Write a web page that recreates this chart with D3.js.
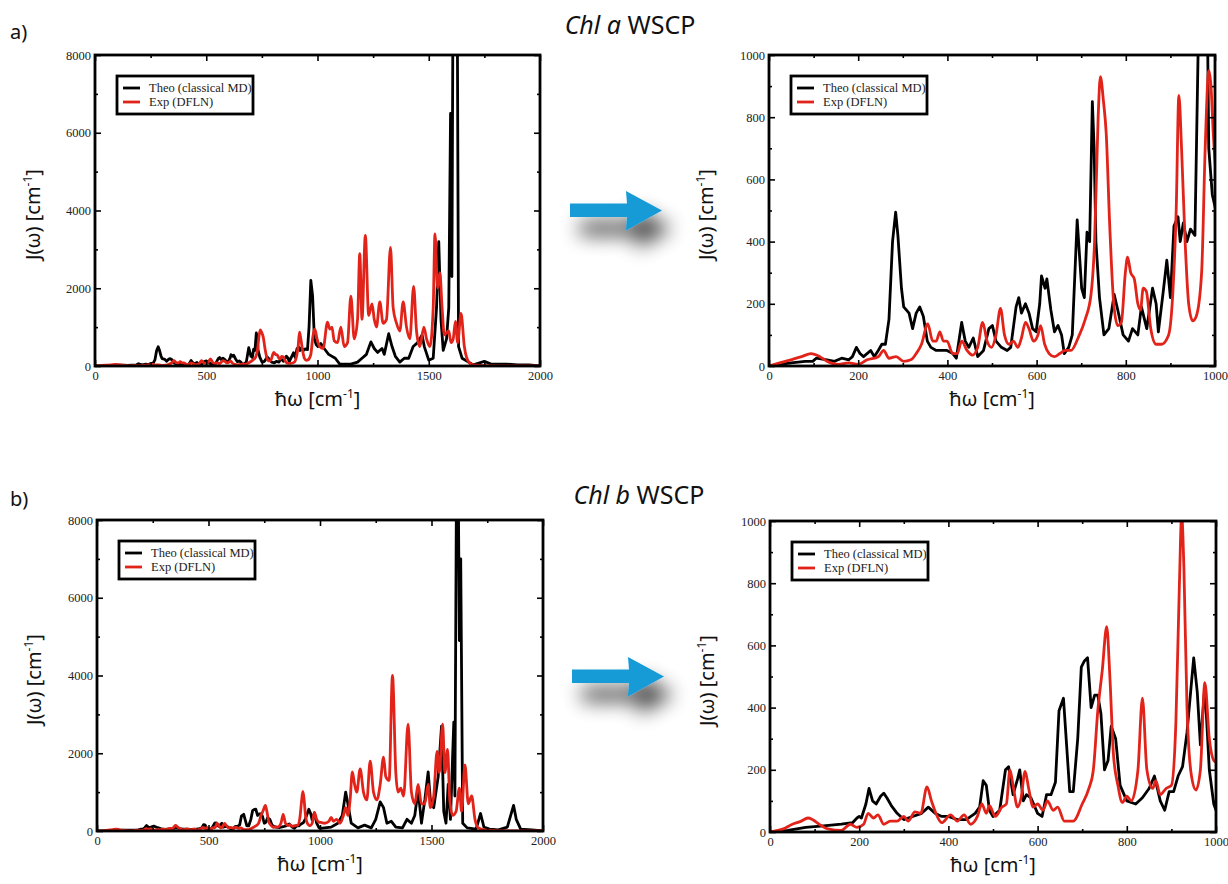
<!DOCTYPE html>
<html>
<head>
<meta charset="utf-8">
<script src="https://cdn.jsdelivr.net/npm/d3@7"></script>
<style>
  body { margin: 0; background: #fff; }
</style>
</head>
<body>
<div id="fig"></div>
<script>
// spectral densities J(w): [w in cm-1, J in cm-1]
const theoA = [[0,0],[24,5],[50,10],[81,15],[98,15],[106,25],[130,20],[147,15],[163,25],[179,20],[187,30],[196,60],[204,40],[212,30],[228,50],[236,30],[245,50],[253,70],[261,70],[269,150],[277,400],[284,495],[289,420],[297,250],[302,190],[314,170],[322,120],[330,170],[338,190],[346,160],[355,80],[363,60],[375,50],[399,50],[412,40],[420,25],[432,140],[440,80],[448,60],[458,90],[468,30],[481,50],[493,120],[501,130],[509,80],[521,60],[534,50],[542,60],[554,190],[560,220],[566,170],[575,200],[583,170],[591,120],[599,110],[607,200],[611,290],[619,250],[623,280],[632,180],[640,110],[648,130],[656,100],[662,40],[672,60],[680,100],[691,470],[701,250],[707,220],[713,430],[719,400],[725,850],[729,700],[733,400],[741,220],[751,100],[762,120],[774,230],[782,180],[794,100],[806,80],[815,120],[827,100],[835,190],[847,120],[860,250],[868,200],[873,110],[884,240],[892,340],[900,220],[908,450],[917,480],[922,400],[929,460],[937,400],[945,440],[955,420],[962,1000],[970,2200],[978,1800],[986,700],[994,550],[1002,500],[1015,580],[1030,450],[1050,300],[1080,200],[1100,50],[1150,50],[1180,100],[1200,200],[1220,300],[1240,620],[1255,450],[1270,350],[1290,450],[1300,300],[1320,830],[1335,500],[1350,250],[1370,100],[1390,200],[1410,200],[1430,500],[1450,600],[1470,800],[1480,500],[1500,150],[1520,200],[1535,1500],[1545,3200],[1555,1200],[1565,400],[1580,700],[1590,1500],[1598,6500],[1604,2300],[1609,9500],[1628,9500],[1634,500],[1650,200],[1700,30],[1750,120],[1780,50],[1850,50],[1900,30],[1950,30],[2000,0]];

const expA = [[0,0],[24,10],[49,20],[73,30],[94,40],[114,30],[130,15],[155,5],[179,10],[200,5],[220,20],[245,30],[257,50],[269,25],[285,30],[302,15],[318,20],[330,40],[342,70],[356,135],[367,80],[375,80],[383,110],[391,80],[399,80],[412,40],[422,40],[432,80],[444,50],[456,35],[468,60],[479,140],[489,80],[499,60],[509,100],[519,185],[528,100],[538,70],[548,80],[558,60],[566,90],[575,140],[583,120],[593,80],[603,100],[609,130],[618,70],[628,40],[640,30],[652,40],[664,50],[677,50],[693,90],[709,150],[722,230],[730,400],[738,800],[743,930],[750,850],[756,750],[764,450],[773,200],[782,130],[790,140],[799,300],[804,350],[811,300],[819,280],[827,200],[833,180],[839,250],[846,240],[856,120],[868,70],[880,70],[896,100],[906,250],[913,500],[919,870],[925,700],[933,400],[941,200],[950,145],[958,160],[970,300],[978,700],[986,950],[991,900],[996,750],[1010,500],[1025,450],[1045,1130],[1055,950],[1065,1000],[1075,650],[1090,600],[1105,1000],[1120,500],[1135,600],[1150,1800],[1165,700],[1180,1200],[1190,2890],[1200,1200],[1215,3360],[1230,1300],[1245,1600],[1255,1200],[1265,1000],[1280,1650],[1295,1100],[1310,1200],[1328,3050],[1340,1500],[1355,1100],[1370,900],[1385,1650],[1400,1000],[1415,700],[1432,2050],[1445,900],[1460,500],[1478,1000],[1490,700],[1505,500],[1520,1500],[1528,3400],[1540,2000],[1550,2400],[1560,1500],[1570,800],[1590,900],[1600,600],[1610,700],[1620,1150],[1630,600],[1645,1350],[1660,500],[1680,100],[1700,30],[1800,0],[2000,0]];

const theoB = [[0,0],[40,5],[80,15],[120,20],[160,25],[185,30],[195,45],[200,50],[205,45],[215,90],[222,140],[230,100],[238,90],[248,115],[255,125],[262,110],[272,85],[285,60],[300,40],[320,50],[340,60],[355,80],[370,60],[385,50],[400,50],[420,40],[440,40],[460,60],[470,80],[478,165],[485,150],[492,70],[500,50],[515,70],[528,200],[535,210],[545,120],[555,170],[560,200],[568,100],[575,120],[585,110],[600,60],[610,50],[620,120],[630,120],[640,160],[648,390],[658,430],[665,280],[672,130],[680,130],[690,300],[698,530],[705,550],[712,560],[720,400],[728,440],[735,440],[742,380],[750,200],[758,230],[765,340],[775,300],[785,150],[800,100],[820,90],[835,110],[850,140],[862,180],[875,100],[885,70],[895,130],[905,130],[915,180],[925,210],[935,320],[945,480],[950,560],[958,450],[965,280],[975,470],[985,200],[995,90],[1000,70],[1050,100],[1080,200],[1100,400],[1115,1000],[1125,700],[1140,200],[1170,80],[1200,150],[1230,80],[1250,300],[1270,750],[1285,600],[1300,200],[1320,250],[1340,100],[1370,80],[1390,300],[1410,200],[1425,400],[1440,1050],[1455,200],[1470,800],[1485,1520],[1495,800],[1510,600],[1530,1400],[1545,2700],[1555,500],[1565,200],[1575,1200],[1585,300],[1600,2800],[1605,900],[1612,9000],[1620,9000],[1625,4900],[1631,7000],[1640,200],[1660,80],[1700,50],[1720,450],[1735,100],[1760,50],[1800,30],[1840,100],[1860,500],[1868,660],[1880,300],[1900,50],[1950,30],[2000,0]];

const expB = [[0,0],[30,10],[50,25],[70,35],[85,45],[95,40],[110,25],[130,10],[160,5],[180,25],[195,15],[210,25],[220,60],[232,45],[242,55],[255,25],[270,35],[285,35],[300,50],[310,35],[325,65],[338,60],[352,145],[362,100],[372,60],[385,30],[405,55],[420,35],[435,55],[450,25],[465,50],[475,90],[485,60],[492,85],[505,50],[520,80],[530,90],[538,200],[545,150],[555,80],[563,110],[572,195],[580,140],[590,80],[600,90],[612,70],[622,100],[635,70],[645,80],[660,35],[680,35],[700,90],[715,140],[725,200],[735,390],[745,520],[755,660],[762,500],[770,250],[780,150],[790,95],[800,115],[810,100],[825,200],[835,430],[845,200],[858,140],[865,165],[875,120],[888,140],[900,150],[910,350],[918,800],[923,1020],[928,850],[935,400],[945,180],[955,135],[965,200],[975,480],[985,300],[995,230],[1005,220],[1020,200],[1040,250],[1050,350],[1060,250],[1075,300],[1090,200],[1105,400],[1115,600],[1125,400],[1135,800],[1145,1520],[1155,1200],[1165,1000],[1180,1600],[1195,1000],[1210,800],[1225,1800],[1240,1000],[1255,800],[1270,1200],[1285,1900],[1295,1400],[1310,1300],[1325,4000],[1340,1500],[1350,1000],[1362,1100],[1375,900],[1395,2750],[1410,1000],[1425,700],[1440,1200],[1455,700],[1470,700],[1485,1200],[1495,600],[1510,900],[1525,2050],[1535,1500],[1550,2750],[1560,1500],[1572,2100],[1582,800],[1595,400],[1610,500],[1625,1100],[1635,500],[1650,1700],[1665,700],[1680,900],[1695,300],[1710,80],[1750,20],[1850,0],[2000,0]];

// axis ticks
const wideXMajor = [0, 500, 1000, 1500, 2000];
const wideXMinor = [250, 750, 1250, 1750];
const wideYMajor = [0, 2000, 4000, 6000, 8000];
const wideYMinor = [1000, 3000, 5000, 7000];
const zoomXMajor = [0, 200, 400, 600, 800, 1000];
const zoomXMinor = [100, 300, 500, 700, 900];
const zoomYMajor = [0, 200, 400, 600, 800, 1000];
const zoomYMinor = [100, 300, 500, 700, 900];

const legendNames = ["Theo (classical MD)", "Exp (DFLN)"];
const titles = [["Chl a", " WSCP"], ["Chl b", " WSCP"]];
const panelTags = ["a)", "b)"];

const RED = "#e2231a";
const SANS = "'Noto Sans', 'Open Sans', sans-serif";
const SERIF = "'Liberation Serif', 'DejaVu Serif', serif";

const svg = d3.select("#fig").append("svg").attr("width", 1228).attr("height", 884);

const defs = svg.append("defs");
const f = defs.append("filter").attr("id", "shadow").attr("x", "-80%").attr("y", "-120%").attr("width", "260%").attr("height", "380%");
f.append("feGaussianBlur").attr("in", "SourceAlpha").attr("stdDeviation", 10).attr("result", "blur");
f.append("feOffset").attr("in", "blur").attr("dx", 10).attr("dy", 18).attr("result", "off");
f.append("feComponentTransfer").attr("in", "off").attr("result", "offA").append("feFuncA").attr("type", "linear").attr("slope", 0.75);
const fm = f.append("feMerge");
fm.append("feMergeNode").attr("in", "offA");
fm.append("feMergeNode").attr("in", "SourceGraphic");

function drawPanel(p, id) {
  const x = d3.scaleLinear().domain([0, p.xMax]).range([p.x0, p.x1]);
  const y = d3.scaleLinear().domain([0, p.yMax]).range([p.y1, p.y0]);
  const g = svg.append("g");

  defs.append("clipPath").attr("id", "clip" + id).append("rect")
    .attr("x", p.x0).attr("y", p.y0).attr("width", p.x1 - p.x0).attr("height", p.y1 - p.y0);

  const line = d3.line().x(d => x(d[0])).y(d => y(d[1]));
  const smooth = d3.line().x(d => x(d[0])).y(d => y(d[1])).curve(d3.curveMonotoneX);
  const lines = g.append("g").attr("clip-path", `url(#clip${id})`);
  lines.append("path").datum(p.theo.filter(d => d[0] <= p.xMax + 20)).attr("d", line)
    .attr("fill", "none").attr("stroke", "#000").attr("stroke-width", 2.8).attr("stroke-linejoin", "round");
  lines.append("path").datum(p.exp.filter(d => d[0] <= p.xMax + 20)).attr("d", smooth)
    .attr("fill", "none").attr("stroke", RED).attr("stroke-width", 2.8).attr("stroke-linejoin", "round");

  const fmt = d3.format("d");
  const styleAxis = sel => {
    sel.select(".domain").remove();
    sel.selectAll(".tick line").attr("stroke", "#000").attr("stroke-width", 1.6);
    sel.selectAll(".tick text").attr("fill", "#222").style("font-family", SERIF).style("font-size", "12.5px");
  };
  g.append("g").attr("transform", `translate(0,${p.y1})`)
    .call(d3.axisBottom(x).tickValues(p.xMajor).tickSize(-6).tickPadding(5).tickFormat(fmt)).call(styleAxis);
  g.append("g").attr("transform", `translate(0,${p.y1})`)
    .call(d3.axisBottom(x).tickValues(p.xMinor).tickSize(-3).tickFormat("")).call(styleAxis);
  g.append("g").attr("transform", `translate(0,${p.y0})`)
    .call(d3.axisTop(x).tickValues(p.xMajor).tickSize(-6).tickFormat("")).call(styleAxis);
  g.append("g").attr("transform", `translate(0,${p.y0})`)
    .call(d3.axisTop(x).tickValues(p.xMinor).tickSize(-3).tickFormat("")).call(styleAxis);
  g.append("g").attr("transform", `translate(${p.x0},0)`)
    .call(d3.axisLeft(y).tickValues(p.yMajor).tickSize(-6).tickPadding(4).tickFormat(fmt)).call(styleAxis);
  g.append("g").attr("transform", `translate(${p.x0},0)`)
    .call(d3.axisLeft(y).tickValues(p.yMinor).tickSize(-3).tickFormat("")).call(styleAxis);
  g.append("g").attr("transform", `translate(${p.x1},0)`)
    .call(d3.axisRight(y).tickValues(p.yMajor).tickSize(-6).tickFormat("")).call(styleAxis);
  g.append("g").attr("transform", `translate(${p.x1},0)`)
    .call(d3.axisRight(y).tickValues(p.yMinor).tickSize(-3).tickFormat("")).call(styleAxis);

  g.append("rect").attr("x", p.x0).attr("y", p.y0).attr("width", p.x1 - p.x0).attr("height", p.y1 - p.y0)
    .attr("fill", "none").attr("stroke", "#000").attr("stroke-width", 2.8);

  // legend
  const lx = p.x0 + 22, ly = p.y0 + 21;
  const lg = g.append("g").attr("transform", `translate(${lx},${ly})`);
  lg.append("rect").attr("width", 136).attr("height", 38).attr("fill", "#fff").attr("stroke", "#000").attr("stroke-width", 2.8);
  legendNames.forEach((name, i) => {
    lg.append("line").attr("x1", 6).attr("x2", 23).attr("y1", 12 + i * 14).attr("y2", 12 + i * 14)
      .attr("stroke", i === 0 ? "#000" : RED).attr("stroke-width", 2.8);
    lg.append("text").attr("x", 32).attr("y", 16 + i * 14).style("font-family", SERIF).style("font-size", "12.5px")
      .attr("fill", "#222").text(name);
  });

  // axis titles
  const yt = svg.append("text").attr("text-anchor", "middle")
    .attr("transform", `translate(${p.yTitleX},${(p.y0 + p.y1) / 2 + 4}) rotate(-90)`)
    .style("font-family", SANS).style("font-size", "20px").attr("fill", "#111");
  yt.append("tspan").text("J(ω) [cm");
  yt.append("tspan").attr("dy", -8).style("font-size", "12px").text("-1");
  yt.append("tspan").attr("dy", 8).text("]");

  const xt = svg.append("text").attr("text-anchor", "middle")
    .attr("x", (p.x0 + p.x1) / 2).attr("y", p.y1 + 40)
    .style("font-family", SANS).style("font-size", "20px").attr("fill", "#111");
  xt.append("tspan").text("ħω [cm");
  xt.append("tspan").attr("dy", -8).style("font-size", "12px").text("-1");
  xt.append("tspan").attr("dy", 8).text("]");
}

const panels = [
  { x0: 95, x1: 540, y0: 55, y1: 366, xMax: 2000, yMax: 8000, xMajor: wideXMajor, xMinor: wideXMinor, yMajor: wideYMajor, yMinor: wideYMinor, theo: theoA, exp: expA, yTitleX: 40 },
  { x0: 769, x1: 1215, y0: 55, y1: 366, xMax: 1000, yMax: 1000, xMajor: zoomXMajor, xMinor: zoomXMinor, yMajor: zoomYMajor, yMinor: zoomYMinor, theo: theoA, exp: expA, yTitleX: 713 },
  { x0: 97, x1: 543, y0: 520, y1: 831, xMax: 2000, yMax: 8000, xMajor: wideXMajor, xMinor: wideXMinor, yMajor: wideYMajor, yMinor: wideYMinor, theo: theoB, exp: expB, yTitleX: 41 },
  { x0: 770, x1: 1216, y0: 521, y1: 832, xMax: 1000, yMax: 1000, xMajor: zoomXMajor, xMinor: zoomXMinor, yMajor: zoomYMajor, yMinor: zoomYMinor, theo: theoB, exp: expB, yTitleX: 714 }
];
panels.forEach((p, i) => drawPanel(p, i));

// titles, tags, arrows
[[630, 34], [639, 504]].forEach((pos, i) => {
  const t = svg.append("text").attr("x", pos[0]).attr("y", pos[1]).attr("text-anchor", "middle")
    .style("font-family", SANS).style("font-size", "25px").attr("fill", "#111");
  t.append("tspan").style("font-style", "italic").text(titles[i][0]);
  t.append("tspan").text(titles[i][1]);
  svg.append("text").attr("x", 10).attr("y", i === 0 ? 39 : 506).style("font-family", SANS)
    .style("font-size", "20px").attr("fill", "#111").text(panelTags[i]);
});

[[0, 0], [2, 466]].forEach(o => {
  svg.append("path")
    .attr("d", `M570,203.5 L627,203.5 L626,191 L662,210.5 L626,230.5 L627,217 L570,217 Z`)
    .attr("transform", `translate(${o[0]},${o[1]})`)
    .attr("fill", "#159bd7").attr("filter", "url(#shadow)");
});
</script>
</body>
</html>
